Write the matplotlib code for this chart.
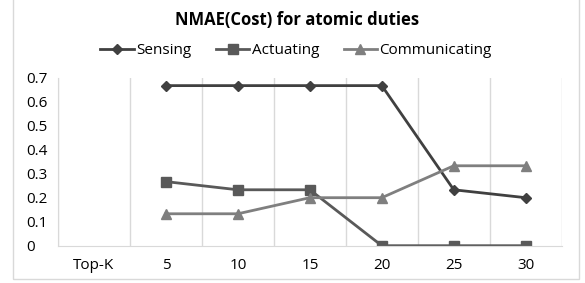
import numpy as np
import matplotlib.pyplot as plt
from matplotlib.patches import Rectangle

categories = ["Top-K", "5", "10", "15", "20", "25", "30"]
sensing = [np.nan, 0.667, 0.667, 0.667, 0.667, 0.233, 0.2]
actuating = [np.nan, 0.267, 0.233, 0.233, 0.0, 0.0, 0.0]
communicating = [np.nan, 0.133, 0.133, 0.2, 0.2, 0.333, 0.333]

plt.rcParams['font.family'] = ['Open Sans', 'DejaVu Sans']

W, H = 585, 283
fig = plt.figure(figsize=(W / 100, H / 100), dpi=100)
ax = fig.add_axes([58 / W, 1 - 245.7 / H, (561.7 - 58) / W, (245.7 - 77.7) / H])

# outer chart border (top runs off the image)
fig.patches.append(Rectangle((12.5 / W, 1 - 279 / H), (578.5 - 12.5) / W, 1.0,
                             transform=fig.transFigure, fill=False,
                             edgecolor="#d9d9d9", linewidth=1, clip_on=False))

x = np.arange(len(categories))
ax.plot(x, sensing, color="#404040", lw=2, marker="D", ms=5, label="Sensing")
ax.plot(x, actuating, color="#595959", lw=2, marker="s", ms=7, label="Actuating")
ax.plot(x, communicating, color="#7f7f7f", lw=2, marker="^", ms=7, label="Communicating")

ax.set_xlim(-0.5, len(categories) - 0.5)
ax.set_ylim(0, 0.7)
ax.set_yticks(np.arange(0, 0.71, 0.1))
ax.set_yticklabels(["0", "0.1", "0.2", "0.3", "0.4", "0.5", "0.6", "0.7"])
ax.set_xticks(x)
ax.set_xticklabels(categories)
ax.set_xticks(np.arange(-0.5, len(categories), 1), minor=True)
ax.grid(True, which="minor", axis="x", color="#d9d9d9", lw=1)
ax.tick_params(which="both", length=0, labelsize=11, colors="black")
ax.tick_params(axis="x", pad=9)
ax.tick_params(axis="y", pad=23)
for lbl in ax.get_yticklabels():
    lbl.set_horizontalalignment("left")
for s in ["top", "right"]:
    ax.spines[s].set_visible(False)
ax.spines["left"].set_color("#d9d9d9")
ax.spines["bottom"].set_color("#d9d9d9")

fig.text(297 / W, 1 - 20 / H, "NMAE(Cost) for atomic duties", ha="center", va="center",
         fontsize=12, fontweight="bold")
fig.legend(loc="center", bbox_to_anchor=(296 / W, 1 - 51 / H), ncol=3, frameon=False,
           fontsize=11, handlelength=2.2, handletextpad=0.15, columnspacing=1.6)

fig.savefig("out.png", dpi=100)
